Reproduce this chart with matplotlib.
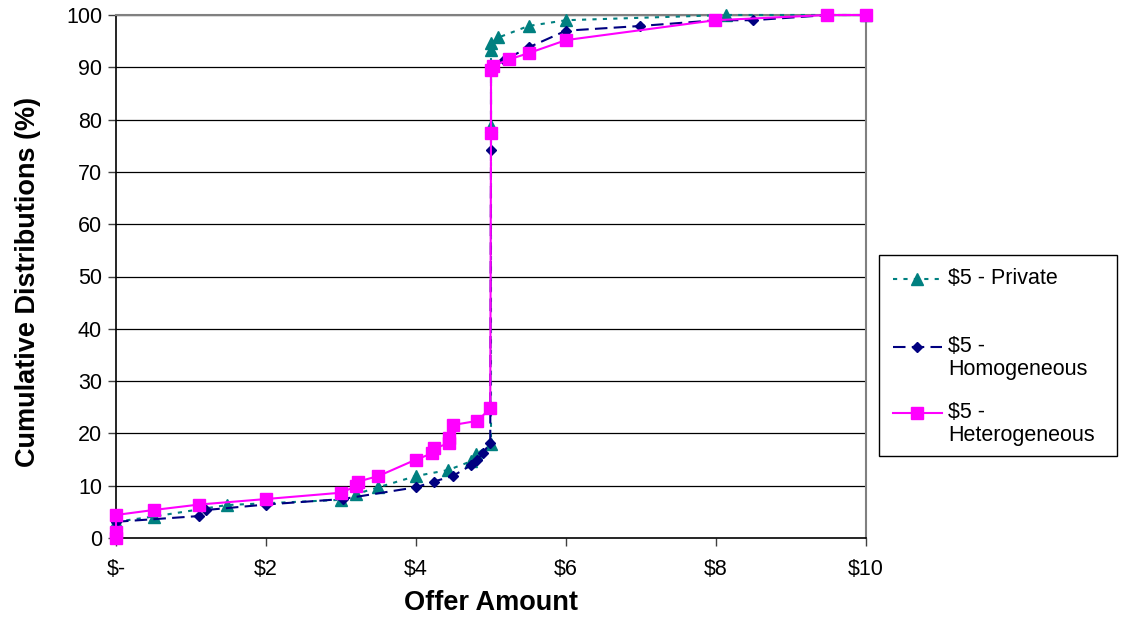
import matplotlib
matplotlib.use("Agg")
import matplotlib.pyplot as plt
from matplotlib.lines import Line2D
from matplotlib.patches import Rectangle

# Data
private_x = [0, 0.5, 1.48, 3.0, 3.2, 3.5, 4.0, 4.43, 4.74, 4.8, 5.0, 5.0, 5.0, 5.0, 5.1, 5.5, 6.0, 8.13, 10]
private_y = [3.1, 4.1, 6.3, 7.3, 8.4, 9.7, 11.85, 13.0, 14.7, 16.0, 18.0, 78.8, 93.3, 94.6, 95.7, 97.9, 99.0, 100, 100]

homog_x = [0, 1.11, 1.2, 2.0, 3.02, 4.0, 4.24, 4.49, 4.74, 4.82, 4.89, 4.99, 5.0, 5.0, 5.18, 5.5, 6.0, 6.99, 8.0, 8.49, 9.5, 10]
homog_y = [3.1, 4.2, 5.35, 6.4, 7.45, 9.7, 10.8, 11.85, 13.95, 15.0, 16.2, 18.2, 74.2, 90.0, 91.4, 93.8, 97.0, 97.9, 99.0, 99.0, 100, 100]

heter_x = [0, 0, 0, 0.5, 1.11, 2.0, 3.0, 3.2, 3.23, 3.5, 4.0, 4.22, 4.24, 4.44, 4.44, 4.49, 4.82, 4.99, 5.0, 5.0, 5.03, 5.24, 5.5, 6.0, 7.99, 9.48, 10]
heter_y = [0, 1.1, 4.4, 5.35, 6.4, 7.45, 8.66, 9.9, 10.8, 11.85, 15.0, 16.2, 17.15, 18.1, 19.06, 21.6, 22.4, 24.8, 77.5, 89.5, 90.3, 91.5, 92.7, 95.2, 99.0, 100, 100]

x_ticks = [0, 2, 4, 6, 8, 10]
x_tick_labels = ["\\$-", "\\$2", "\\$4", "\\$6", "\\$8", "\\$10"]
y_ticks = [0, 10, 20, 30, 40, 50, 60, 70, 80, 90, 100]

labels = [["\\$5 - Private"], ["\\$5 -", "Homogeneous"], ["\\$5 -", "Heterogeneous"]]

plt.rcParams['font.family'] = ['Liberation Sans', 'DejaVu Sans']

W, H = 1123, 617
fig = plt.figure(figsize=(W / 100, H / 100), dpi=100)
ax = fig.add_axes([116 / W, 1 - 538 / H, 750 / W, 523 / H])

for yv in y_ticks[1:]:
    ax.axhline(yv, color='black', lw=0.9, zorder=0.5)

styles = [
    dict(color='#008080', ls=(0, (2, 3)), lw=1.5, marker='^', ms=8),
    dict(color='#000080', ls=(0, (6, 3)), lw=1.5, marker='D', ms=5.5),
    dict(color='#FF00FF', ls='-', lw=1.5, marker='s', ms=8),
]

ax.plot(private_x, private_y, zorder=3, clip_on=False, **styles[0])
ax.plot(homog_x, homog_y, zorder=4, clip_on=False, **styles[1])
ax.plot(heter_x, heter_y, zorder=5, clip_on=False, **styles[2])

ax.set_xlim(0, 10)
ax.set_ylim(0, 100)
ax.set_xticks(x_ticks)
ax.set_xticklabels(x_tick_labels)
ax.set_yticks(y_ticks)
ax.tick_params(axis='both', labelsize=15.5, direction='out', length=6, width=1, color='#404040')
ax.tick_params(axis='x', pad=9)
ax.tick_params(axis='y', pad=4)

for s in ['left', 'bottom']:
    ax.spines[s].set_color('black')
    ax.spines[s].set_linewidth(1.2)
for s in ['top', 'right']:
    ax.spines[s].set_color('#808080')
    ax.spines[s].set_linewidth(1.5)

ax.set_xlabel("Offer Amount", fontsize=19.5, fontweight='bold')
ax.xaxis.set_label_coords(0.5, (538 - 603) / 523)
ax.xaxis.label.set_va('center')
ax.set_ylabel("Cumulative Distributions (%)", fontsize=19.5, fontweight='bold')
ax.yaxis.set_label_coords((28 - 116) / 750, (538 - 281.5) / 523)
ax.yaxis.label.set_va('center')
ax.yaxis.label.set_ha('center')

# Legend box drawn in figure pixel coordinates
def fx(px):
    return px / W

def fy(py):
    return 1 - py / H

fig.patches.append(Rectangle((fx(879), fy(456)), fx(1117) - fx(879), fy(255) - fy(456),
                             transform=fig.transFigure, facecolor='white',
                             edgecolor='black', lw=1.0, zorder=1))
entry_y = [[278], [346, 369], [412, 435]]
handle_y = [279, 347, 413]
for st, lab, ys, hy in zip(styles, labels, entry_y, handle_y):
    fig.lines.append(Line2D([fx(893), fx(942)], [fy(hy), fy(hy)], transform=fig.transFigure,
                            color=st['color'], ls=st['ls'], lw=st['lw'], zorder=2))
    fig.lines.append(Line2D([fx(917)], [fy(hy)], transform=fig.transFigure,
                            color=st['color'], marker=st['marker'], ms=st['ms'],
                            ls='none', zorder=3))
    for t, yy in zip(lab, ys):
        fig.text(fx(948), fy(yy), t, fontsize=15.5, ha='left', va='center', zorder=4)

fig.savefig("out.png", dpi=100)
